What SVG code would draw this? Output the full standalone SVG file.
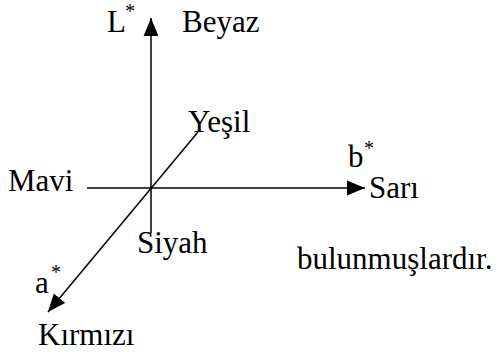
<svg xmlns="http://www.w3.org/2000/svg" width="500" height="354" viewBox="0 0 500 354">
<style>
text{font-family:'Liberation Serif','Times New Roman',serif;font-size:31px;fill:#000}
.sup{font-size:20px}
.ax{stroke:#000;stroke-width:1.5;fill:none}
</style>
<defs>
<marker id="ah" markerUnits="userSpaceOnUse" markerWidth="18" markerHeight="16" viewBox="0 0 17 14" refX="17" refY="7" orient="auto">
<path d="M0,0 L17,7 L0,14 Z" fill="#000"/>
</marker>
</defs>
<rect width="500" height="354" fill="#fff"/>
<g id="connectors">
<line class="ax" x1="151" y1="233" x2="151" y2="18" marker-end="url(#ah)"/>
<line class="ax" x1="87" y1="188" x2="365" y2="188" marker-end="url(#ah)"/>
<line class="ax" x1="198" y1="132" x2="48" y2="312" marker-end="url(#ah)"/>
</g>
<g id="L"><text x="107" y="32">L</text><text class="sup" x="125" y="18">*</text></g>
<g id="beyaz"><text x="182" y="32">Beyaz</text></g>
<g id="yesil"><text x="188" y="132">Yeşil</text></g>
<g id="mavi"><text x="8" y="191">Mavi</text></g>
<g id="b"><text x="348" y="167">b</text><text class="sup" x="364" y="155">*</text></g>
<g id="sari"><text x="369" y="198">Sarı</text></g>
<g id="siyah"><text x="137" y="253">Siyah</text></g>
<g id="note"><text x="297" y="269">bulunmuşlardır.</text></g>
<g id="a"><text x="35" y="293">a</text><text class="sup" x="51" y="279">*</text></g>
<g id="kirmizi"><text x="38" y="345">Kırmızı</text></g>
</svg>
